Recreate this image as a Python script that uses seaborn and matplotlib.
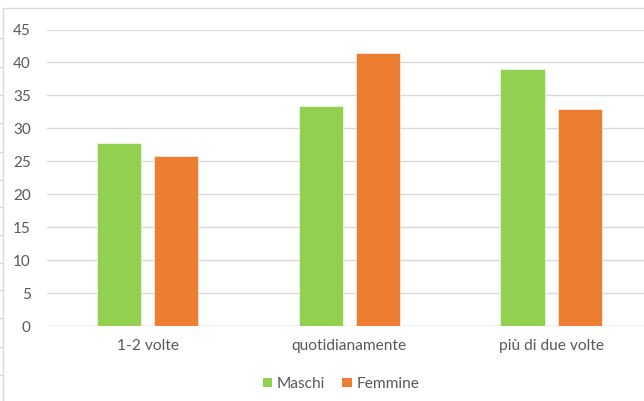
import matplotlib
matplotlib.use("Agg")
import matplotlib.pyplot as plt
from matplotlib.lines import Line2D
from matplotlib.patches import Patch
import seaborn as sns
import pandas as pd

# Survey frequencies by gender
categories = ["1-2 volte", "quotidianamente", "più di due volte"]
maschi = [27.7, 33.4, 39.0]
femmine = [25.8, 41.5, 33.0]
series_names = ["Maschi", "Femmine"]
y_ticks = [0, 5, 10, 15, 20, 25, 30, 35, 40, 45]

GREEN = "#92D050"
ORANGE = "#ED7D31"
GRID = "#D9D9D9"
TEXT = "#595959"

df = pd.DataFrame({
    "frequenza": categories * 2,
    "valore": maschi + femmine,
    "sesso": [series_names[0]] * 3 + [series_names[1]] * 3,
})

sns.set_theme(style="white")
plt.rcParams["font.family"] = ["Lato", "DejaVu Sans"]

W, H = 644, 401
fig = plt.figure(figsize=(W / 100, H / 100), dpi=100)

# plot area in pixel terms
x0, x1 = 46.7, 652.0
y_top, y_zero = 29.5, 326.0
ax = fig.add_axes([x0 / W, (H - y_zero) / H, (x1 - x0) / W, (y_zero - y_top) / H])

sns.barplot(
    data=df, x="frequenza", y="valore", hue="sesso",
    palette=[GREEN, ORANGE], saturation=1, width=0.567, gap=0.224,
    edgecolor="white", linewidth=0.4, ax=ax, legend=False,
)

ax.set_xlim(-0.5, 2.5)
ax.set_ylim(0, 45)
ax.set_yticks(y_ticks)
ax.set_yticklabels([str(t) for t in y_ticks])
ax.set_xlabel("")
ax.set_ylabel("")
ax.yaxis.grid(True, color=GRID, linewidth=1.0)
ax.set_axisbelow(True)
for s in ax.spines.values():
    s.set_visible(False)
ax.axhline(0, color=GRID, linewidth=1.0, zorder=0.5)
ax.tick_params(axis="y", length=0, pad=11.5, labelsize=11, labelcolor=TEXT)
ax.tick_params(axis="x", length=0, pad=9.5, labelsize=11.2, labelcolor=TEXT)

handles = [Patch(facecolor=GREEN, edgecolor="none"), Patch(facecolor=ORANGE, edgecolor="none")]
fig.legend(
    handles, series_names, loc="center", bbox_to_anchor=(341 / W, 1 - 384 / H),
    ncol=2, frameon=False, fontsize=11.2, labelcolor=TEXT,
    handlelength=0.6, handleheight=0.6, handletextpad=0.3, columnspacing=1.1,
)

# chart area border and worksheet row lines at the left edge
fig.add_artist(Line2D([3 / W, 1], [1 - 8 / H, 1 - 8 / H], color=GRID, linewidth=1.0))
fig.add_artist(Line2D([3 / W, 3 / W], [0, 1 - 8 / H], color=GRID, linewidth=1.0))
for yy in [38, 67, 95, 123, 152, 180, 207, 235, 263, 290, 318, 347, 375]:
    fig.add_artist(Line2D([0, 3 / W], [1 - yy / H, 1 - yy / H], color=GRID, linewidth=1.0))

fig.savefig("out.png", dpi=100)
